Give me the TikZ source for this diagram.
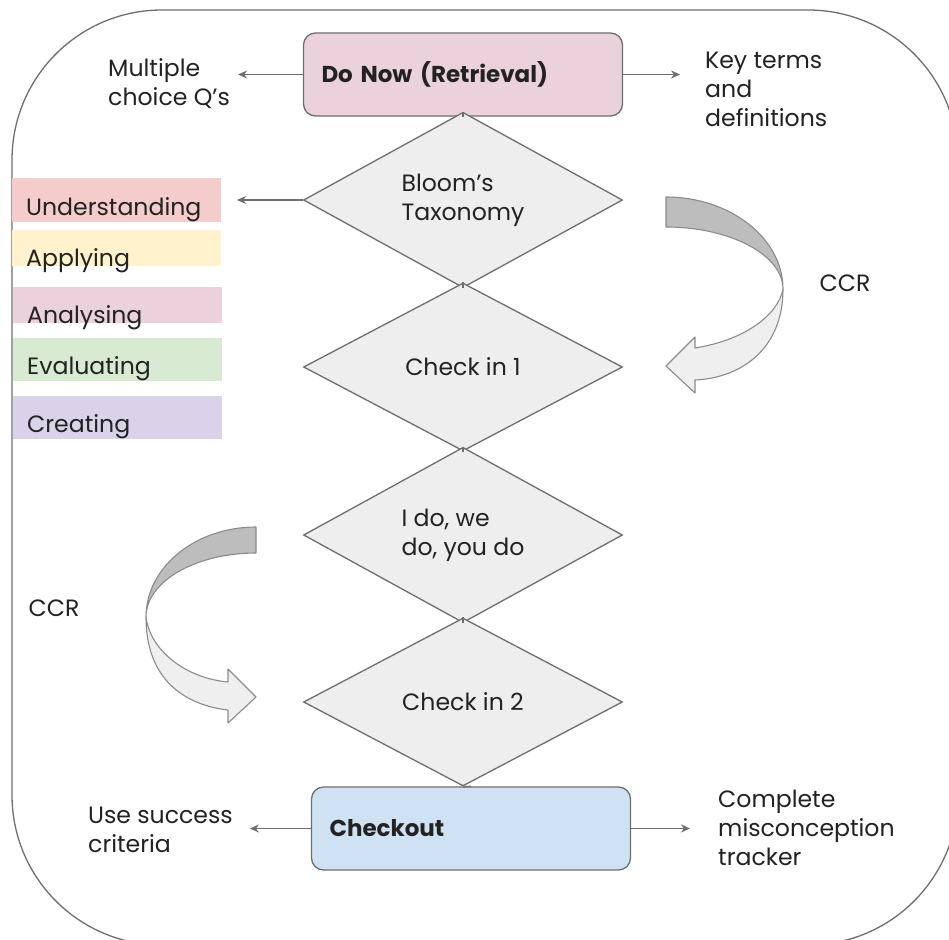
\documentclass[tikz,border=0pt]{standalone}
\usepackage{fontspec}
\setmainfont{Poppins}
\usetikzlibrary{shapes.geometric,arrows.meta}

\definecolor{edgegray}{HTML}{6E6E6E}
\definecolor{inkgray}{HTML}{222222}
\definecolor{diafill}{HTML}{EEEEEE}
\definecolor{donowpink}{HTML}{EAD1DC}
\definecolor{checkblue}{HTML}{CFE2F3}
\definecolor{barred}{HTML}{F4CCCC}
\definecolor{baryellow}{HTML}{FFF2CC}
\definecolor{barpink}{HTML}{EAD1DC}
\definecolor{bargreen}{HTML}{D9EAD3}
\definecolor{barpurple}{HTML}{D9D2E9}
\definecolor{ccrdark}{HTML}{BDBDBD}
\definecolor{ccrlight}{HTML}{EFEFEF}

\begin{document}
\begin{tikzpicture}[x=1pt,y=-1pt,
	every node/.style={font=\fontsize{23.6}{29}\selectfont,text=inkgray},
	stage/.style={draw=edgegray,line width=1.3pt,fill=diafill,diamond,inner sep=0,minimum width=319pt,minimum height=168pt,align=left},
	lessonbox/.style={draw=edgegray,line width=1.3pt,rounded corners=12pt,minimum width=319pt,minimum height=83pt,inner xsep=18pt,text width=283pt,align=left,font=\fontsize{23}{29}\selectfont\bfseries},
	note/.style={inner ysep=0,align=left,anchor=west},
	bloombar/.style={inner ysep=0,inner xsep=14pt,text width=181pt,minimum width=209pt,text height=36pt,align=left,anchor=base west},
	flowarrow/.style={draw=edgegray,line width=1.3pt,-{Stealth[length=9pt,width=8pt]}},
	ccrband/.style={draw=edgegray!80,line width=1.1pt,line join=round}
]
	\useasboundingbox (0,0) rectangle (949,939);
	\begin{scope}
		\clip (0,0) rectangle (949,939);
		\draw[draw=edgegray,line width=1.3pt,rounded corners=150pt] (12,10) rectangle (958,945);
	\end{scope}

	% main column
	\node[lessonbox,fill=donowpink] (donow) at (463,74.5) {Do Now (Retrieval)};
	\node[stage] (bloom) at (463,200) {Bloom’s\\Taxonomy};
	\node[stage] (check1) at (463,367) {Check in 1};
	\node[stage] (idodo) at (463,535) {I do, we\\do, you do};
	\node[stage] (check2) at (463,702) {Check in 2};
	\node[lessonbox,fill=checkblue] (checkout) at (471,828.5) {Checkout};
	\draw[edgegray,line width=1.3pt] (donow.south) -- (bloom.north);
	\draw[edgegray,line width=1.3pt] (bloom.south) -- (check1.north);
	\draw[edgegray,line width=1.3pt] (check1.south) -- (idodo.north);
	\draw[edgegray,line width=1.3pt] (idodo.south) -- (check2.north);
	\draw[edgegray,line width=1.3pt] (check2.south) -- (checkout.north);

	% side notes
	\node[note,inner xsep=8pt] (mcq) at (100,84) {Multiple\\choice Q’s};
	\node[note,inner xsep=25pt] (keyterms) at (680,89) {Key terms\\and\\definitions};
	\node[note,inner xsep=17pt] (success) at (71,830) {Use success\\criteria};
	\node[note,inner xsep=28pt] (tracker) at (690,828) {Complete\\misconception\\tracker};
	\draw[flowarrow] (donow.west) -- (donow.west -| mcq.east);
	\draw[flowarrow] (donow.east) -- (donow.east -| keyterms.west);
	\draw[flowarrow] (checkout.west) -- (checkout.west -| success.east);
	\draw[flowarrow] (checkout.east) -- (checkout.east -| tracker.west);

	% Bloom's levels
	\node[bloombar,fill=barred,text height=37pt,text depth=7pt] (under) at (12,215) {Understanding};
	\node[bloombar,fill=baryellow,text depth=0pt] (apply) at (12,266) {Applying};
	\node[bloombar,fill=barpink,text depth=0pt] (analyse) at (13,323) {Analysing};
	\node[bloombar,fill=bargreen,text depth=7pt] (evaluate) at (13,374) {Evaluating};
	\node[bloombar,fill=barpurple,text depth=7pt] (create) at (13,432) {Creating};
	\coordinate (bloomtip) at (237,200);
	\draw[flowarrow] (bloom.west) -- (bloomtip);

	% CCR arrows
	\draw[ccrband,fill=ccrdark] (666,197) .. controls (730.6,197) and (783,238.7) .. (783,289)
		.. controls (783,255.2) and (730.6,227) .. (666,227) -- cycle;
	\draw[ccrband,fill=ccrlight] (783,289) .. controls (783,350) and (740,378) .. (695,380)
		-- (695,393) -- (666,366) -- (695,337) -- (695,348)
		.. controls (745,340) and (778,315) .. (783,289) -- cycle;
	\node (ccrright) at (845,283) {CCR};

	\draw[ccrband,fill=ccrdark] (256,527) .. controls (195.3,527) and (146,567.3) .. (146,617)
		.. controls (146,581.7) and (195.3,553) .. (256,553) -- cycle;
	\draw[ccrband,fill=ccrlight] (146,617) .. controls (146,680) and (185,705) .. (228,710)
		-- (228,723) -- (256,697) -- (228,669) -- (228,682)
		.. controls (185,678) and (150,650) .. (146,617) -- cycle;
	\node (ccrleft) at (54,608) {CCR};
\end{tikzpicture}
\end{document}
